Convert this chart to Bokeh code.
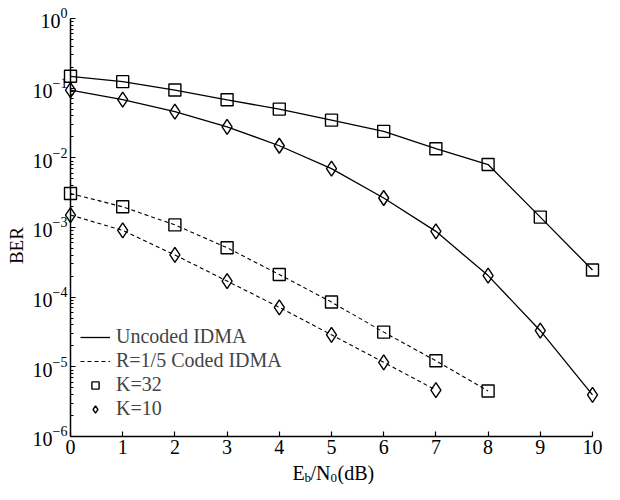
import math
from bokeh.plotting import figure
from bokeh.models import FixedTicker, Range1d, Legend, LegendItem, Label
from bokeh.embed import file_html
from bokeh.resources import INLINE

# ---- data ----
snr_uncoded = [0, 1, 2, 3, 4, 5, 6, 7, 8, 9, 10]
ber_uncoded_k32 = [0.148, 0.124, 0.094, 0.068, 0.050, 0.0347, 0.024, 0.0135, 0.0080, 0.00141, 0.000245]
ber_uncoded_k10 = [0.094, 0.0685, 0.046, 0.0279, 0.0149, 0.0070, 0.00265, 0.00088, 0.000204, 3.3e-5, 3.95e-6]
snr_coded_k32 = [0, 1, 2, 3, 4, 5, 6, 7, 8]
ber_coded_k32 = [0.00308, 0.00198, 0.00109, 0.000512, 0.000211, 8.5e-5, 3.15e-5, 1.22e-5, 4.5e-6]
snr_coded_k10 = [0, 1, 2, 3, 4, 5, 6, 7]
ber_coded_k10 = [0.00151, 0.000907, 0.000404, 0.00017, 7.15e-5, 2.88e-5, 1.16e-5, 4.64e-6]
x_ticks = [0, 1, 2, 3, 4, 5, 6, 7, 8, 9, 10]
y_decades = [0, -1, -2, -3, -4, -5, -6]
legend_labels = ["Uncoded IDMA", "R=1/5 Coded IDMA", "K=32", "K=10"]

FONT = "Liberation Serif"
X_MIN, X_MAX = 0, 10
Y_MIN, Y_MAX = 1e-6, 1.0

# The frame covers the whole canvas; the axes are pinned at x=0 / y=1e-6 so that
# tick labels and the sub-scripted x label sit inside it.
p = figure(width=604, height=484, y_axis_type="log", output_backend="svg",
           toolbar_location=None,
           x_range=Range1d(-1.341, 10.23), y_range=Range1d(10 ** -6.689, 10 ** 0.258),
           min_border_left=0, min_border_right=0, min_border_top=0, min_border_bottom=0)
p.outline_line_color = None
p.xgrid.visible = False
p.ygrid.visible = False
p.background_fill_color = "white"
p.border_fill_color = "white"

# axes
p.xaxis.ticker = FixedTicker(ticks=x_ticks)
p.xaxis.fixed_location = Y_MIN
p.xaxis.bounds = (X_MIN, X_MAX)
p.yaxis.fixed_location = X_MIN
p.yaxis.bounds = (Y_MIN, Y_MAX)
p.yaxis.ticker = FixedTicker(ticks=[10.0 ** d for d in y_decades],
                             minor_ticks=[m * 10.0 ** d for d in y_decades[1:] for m in range(2, 10)])
for ax in (p.xaxis[0], p.yaxis[0]):
    ax.axis_line_color = "black"
    ax.axis_line_width = 1.5
    ax.major_tick_in = 5
    ax.major_tick_out = 0
    ax.major_tick_line_width = 1.2
    ax.major_label_text_font = FONT
    ax.major_label_text_color = "black"
    ax.major_label_text_font_size = "20px"
    ax.major_label_standoff = 4
p.xaxis.minor_tick_line_color = None
p.yaxis.minor_tick_in = 3
p.yaxis.minor_tick_out = 0
p.yaxis.major_label_standoff = 3

# y-axis title
p.add_layout(Label(x=X_MIN, y=10 ** -3.26, x_offset=-54, text="BER", angle=math.pi / 2,
                   text_font=FONT, text_font_size="19px", text_color="black",
                   text_align="center", text_baseline="middle"))

# curves
solid = dict(line_color="black", line_width=1.3)
dashed = dict(line_color="black", line_width=1.1, line_dash="4 3")
r_solid = p.line(snr_uncoded, ber_uncoded_k32, **solid)
p.line(snr_uncoded, ber_uncoded_k10, **solid)
r_dash = p.line(snr_coded_k32, ber_coded_k32, **dashed)
p.line(snr_coded_k10, ber_coded_k10, **dashed)

sq_kw = dict(marker="square", size=12, fill_color=None, line_color="black", line_width=1.4)
di_kw = dict(marker="diamond", size=15, fill_color=None, line_color="black", line_width=1.4)
r_sq = p.scatter(snr_uncoded, ber_uncoded_k32, **sq_kw)
r_di = p.scatter(snr_uncoded, ber_uncoded_k10, **di_kw)
p.scatter(snr_coded_k32, ber_coded_k32, **sq_kw)
p.scatter(snr_coded_k10, ber_coded_k10, **di_kw)

legend = Legend(items=[LegendItem(label=legend_labels[0], renderers=[r_solid]),
                       LegendItem(label=legend_labels[1], renderers=[r_dash]),
                       LegendItem(label=legend_labels[2], renderers=[r_sq]),
                       LegendItem(label=legend_labels[3], renderers=[r_di])],
                location=(80, 64), border_line_color=None, background_fill_alpha=0,
                label_text_font=FONT, label_text_font_size="20px", label_standoff=6,
                glyph_width=30, glyph_height=18, label_height=18, spacing=1, padding=4, margin=0)
p.add_layout(legend, "center")

# x-axis label with subscripts: E_b/N_0(dB), placed just below the x tick labels
X_LABEL_Y = 10 ** -6.517
SUB_Y = 10 ** -6.589
xl_parts = [("E", -39, X_LABEL_Y, "20px"), ("b", -27, SUB_Y, "13px"), ("/N", -21, X_LABEL_Y, "20px"),
            ("0", -1, SUB_Y, "13px"), ("(dB)", 6, X_LABEL_Y, "20px")]
for txt, dx, yy, fs in xl_parts:
    p.add_layout(Label(x=5, y=yy, x_units="data", y_units="data", x_offset=dx,
                       text=txt, text_font=FONT, text_font_size=fs, text_color="black",
                       text_baseline="middle", text_align="left"))

open("out.html", "w").write(file_html(p, INLINE))
